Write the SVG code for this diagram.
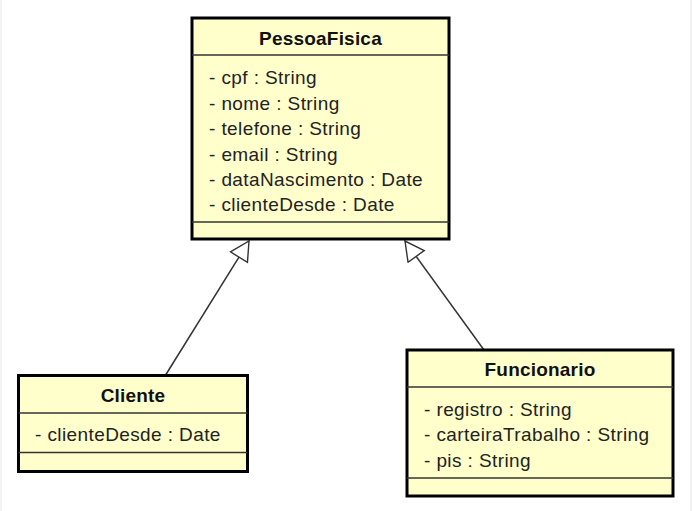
<svg xmlns="http://www.w3.org/2000/svg" width="692" height="511" viewBox="0 0 692 511">
<style>
.box{fill:#FFFFCC;stroke:#000;stroke-width:3}
.sep{stroke:#333;stroke-width:1.5}
.title{font-family:"Liberation Sans",Arial,sans-serif;font-size:19px;font-weight:bold;fill:#111;text-anchor:middle;letter-spacing:0.2px}
.attr{font-family:"Liberation Sans",Arial,sans-serif;font-size:19px;fill:#222;letter-spacing:0.4px}
.conn{stroke:#333;stroke-width:1.5;fill:none}
</style>
<defs>
<marker id="gen" markerUnits="userSpaceOnUse" markerWidth="24" markerHeight="24" refX="20" refY="11" orient="auto" viewBox="0 0 24 24">
<path d="M1,1 L20,11 L1,21 Z" fill="#fff" stroke="#333" stroke-width="1.4" stroke-linejoin="miter"/>
</marker>
</defs>
<rect x="0" y="0" width="692" height="511" fill="#f2f2f2"/>
<rect x="2" y="0" width="688" height="511" fill="#fff"/>
<g id="connectors">
<line class="conn" x1="165" y1="376" x2="249" y2="241" marker-end="url(#gen)"/>
<line class="conn" x1="484" y1="350" x2="405" y2="241" marker-end="url(#gen)"/>
</g>
<g id="PessoaFisica">
<rect class="box" x="192" y="18" width="257" height="221"/>
<line class="sep" x1="192" y1="55" x2="449" y2="55"/>
<line class="sep" x1="192" y1="222" x2="449" y2="222"/>
<text class="title" x="320.5" y="45">PessoaFisica</text>
<text class="attr" x="209" y="84">- cpf : String</text>
<text class="attr" x="209" y="109.5">- nome : String</text>
<text class="attr" x="209" y="135">- telefone : String</text>
<text class="attr" x="209" y="160.5">- email : String</text>
<text class="attr" x="209" y="186">- dataNascimento : Date</text>
<text class="attr" x="209" y="211">- clienteDesde : Date</text>
</g>
<g id="Cliente">
<rect class="box" x="18.5" y="375.5" width="229" height="96"/>
<line class="sep" x1="18.5" y1="413" x2="247.5" y2="413"/>
<line class="sep" x1="18.5" y1="452.5" x2="247.5" y2="452.5"/>
<text class="title" x="133" y="402">Cliente</text>
<text class="attr" x="35" y="441">- clienteDesde : Date</text>
</g>
<g id="Funcionario">
<rect class="box" x="407" y="350" width="266" height="146"/>
<line class="sep" x1="407" y1="387" x2="673" y2="387"/>
<line class="sep" x1="407" y1="478" x2="673" y2="478"/>
<text class="title" x="540" y="375.5">Funcionario</text>
<text class="attr" x="424" y="416">- registro : String</text>
<text class="attr" x="424" y="441">- carteiraTrabalho : String</text>
<text class="attr" x="424" y="466.5">- pis : String</text>
</g>
</svg>
